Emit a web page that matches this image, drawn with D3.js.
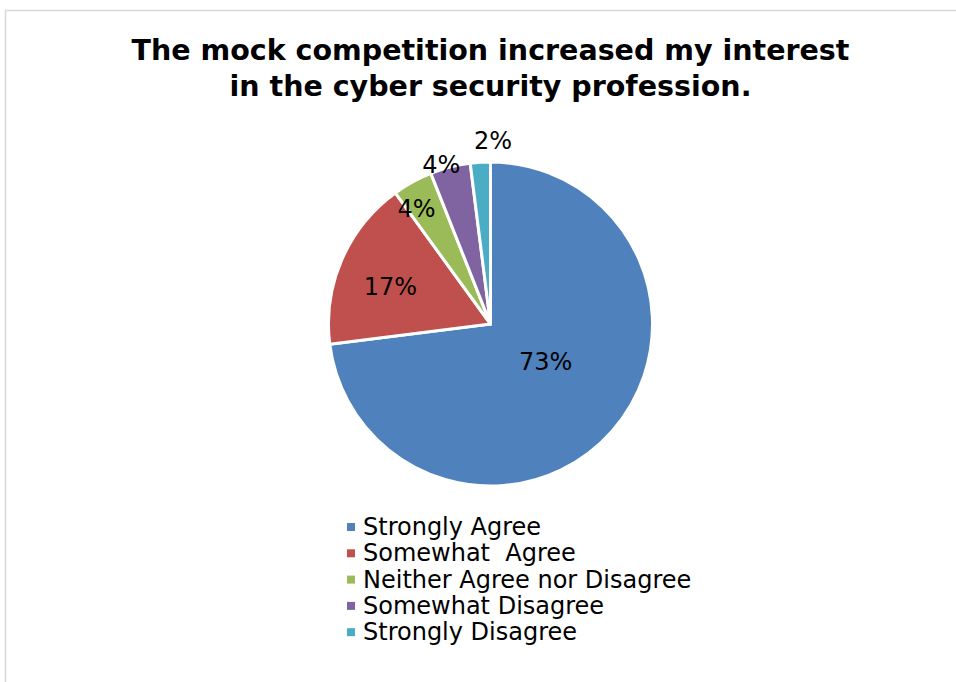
<!DOCTYPE html>
<html>
<head>
<meta charset="utf-8">
<script src="https://cdn.jsdelivr.net/npm/d3@7"></script>
<style>
  html, body { margin: 0; padding: 0; background: #fff; }
  svg { display: block; }
  text { font-family: Verdana, "DejaVu Sans", sans-serif; }
</style>
</head>
<body>
<svg id="chart" width="956" height="682"></svg>
<script>
// Survey responses, percent of respondents
const categories = ["Strongly Agree", "Somewhat  Agree", "Neither Agree nor Disagree", "Somewhat Disagree", "Strongly Disagree"];
const values = [73, 17, 4, 4, 2];
const colors = ["#4F81BD", "#C0504D", "#9BBB59", "#8064A2", "#4BACC6"];
const titleLines = ["The mock competition increased my interest", "in the cyber security profession."];

// label placement: distance from centre (px) and small nudges per slice
const labelRadius = [67, 107, 137, 166, 183];
const labelNudge = [[5, -6], [-2, 5], [-8, 5], [-8, 2], [14, 0]];

const W = 956, H = 682;
const cx = 490.5, cy = 324, R = 162;

const svg = d3.select("#chart");

// chart frame
svg.append("rect")
  .attr("x", 5.5).attr("y", 10.5)
  .attr("width", W + 20).attr("height", H + 20)
  .attr("fill", "#fff")
  .attr("stroke", "#d9d9d9").attr("stroke-width", 1.5);

// title
svg.append("text")
  .attr("text-anchor", "middle")
  .attr("font-weight", "bold")
  .attr("font-size", 28.5)
  .attr("fill", "#000")
  .selectAll("tspan")
  .data(titleLines)
  .join("tspan")
  .attr("x", cx)
  .attr("y", (d, i) => 60 + i * 35.5)
  .text(d => d);

const pie = d3.pie().sort(null).value(d => d)(values);
const arc = d3.arc().innerRadius(0).outerRadius(R);

const g = svg.append("g").attr("transform", `translate(${cx},${cy})`);

g.selectAll("path")
  .data(pie)
  .join("path")
  .attr("d", arc)
  .attr("fill", (d, i) => colors[i])
  .attr("stroke", "#fff")
  .attr("stroke-width", 3)
  .attr("stroke-linejoin", "round");

g.selectAll("text.lbl")
  .data(pie)
  .join("text")
  .attr("class", "lbl")
  .attr("text-anchor", "middle")
  .attr("dominant-baseline", "central")
  .attr("font-size", 24)
  .attr("fill", "#000")
  .attr("x", (d, i) => {
    const a = (d.startAngle + d.endAngle) / 2;
    return Math.sin(a) * labelRadius[i] + labelNudge[i][0];
  })
  .attr("y", (d, i) => {
    const a = (d.startAngle + d.endAngle) / 2;
    return -Math.cos(a) * labelRadius[i] + labelNudge[i][1];
  })
  .text(d => d.data + "%");

// legend
const lg = svg.append("g").attr("transform", "translate(347,527)");
const rows = lg.selectAll("g")
  .data(categories)
  .join("g")
  .attr("transform", (d, i) => `translate(0,${i * 26.3})`);
rows.append("rect")
  .attr("x", 0).attr("y", -4)
  .attr("width", 8).attr("height", 8)
  .attr("fill", (d, i) => colors[i]);
rows.append("text")
  .attr("x", 16)
  .attr("dominant-baseline", "central")
  .attr("font-size", 24)
  .attr("fill", "#000")
  .style("white-space", "pre")
  .text(d => d);
</script>
</body>
</html>
